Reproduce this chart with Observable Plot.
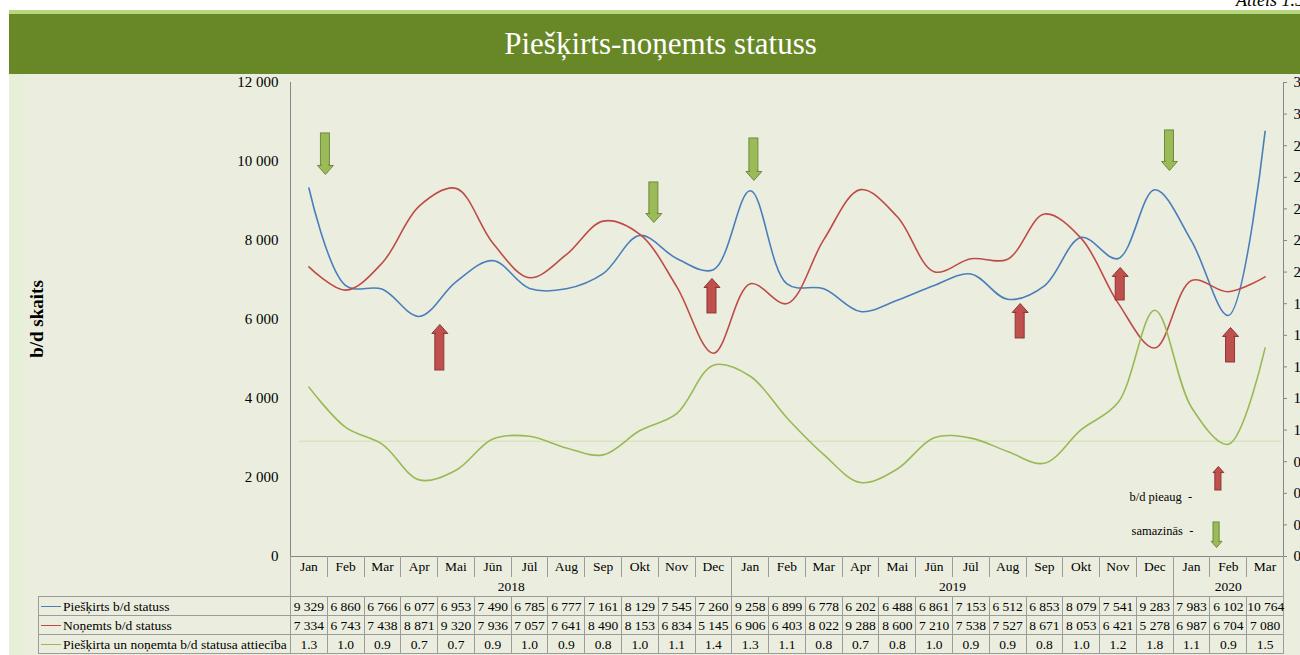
<!DOCTYPE html>
<html>
<head>
<meta charset="utf-8">
<script src="https://cdn.jsdelivr.net/npm/d3@7"></script>
<script src="https://cdn.jsdelivr.net/npm/@observablehq/plot@0.6"></script>
<style>
  html, body { margin: 0; padding: 0; }
  body { width: 1300px; height: 655px; overflow: hidden; background: #ffffff; position: relative;
         font-family: "Liberation Serif", "Times New Roman", serif; color: #000; }
  #bg { position: absolute; left: 9px; top: 13px; width: 1291px; height: 642px; background: #EBEEDF; }
  #bgstrip { position: absolute; left: 9px; top: 74px; width: 15px; height: 581px; background: #E6F0D9; }
  #topline { position: absolute; left: 9px; top: 10px; width: 1291px; height: 4px; background: #B7D680; }
  #banner { position: absolute; left: 9px; top: 14px; width: 1291px; height: 60px; background: #688726;
            color: #fff; font-size: 31px; display: flex; align-items: center; justify-content: center;
            padding-left: 12px; box-sizing: border-box; }
  #fig { position: absolute; right: -4px; top: -10px; font-style: italic; font-size: 18px; white-space: nowrap; }
  #chart { position: absolute; left: 0; top: 74px; }
  #ylab { position: absolute; left: 37px; top: 319px; transform: translate(-50%, -50%) rotate(-90deg);
          font-weight: bold; font-size: 19px; white-space: nowrap; }
  .cell { position: absolute; box-sizing: border-box; text-align: center; font-size: 13.5px; white-space: nowrap; overflow: visible; }
  .lab { text-align: left; padding-left: 24px; }
  .swatch { position: absolute; left: 2px; width: 20px; height: 0; border-top: 1.6px solid; }
</style>
</head>
<body>
<div id="bg"></div>
<div id="bgstrip"></div>
<div id="topline"></div>
<div id="banner">Piešķirts-noņemts statuss</div>
<div id="fig">Attēls 1.5</div>
<div id="chart"></div>
<div id="ylab">b/d skaits</div>
<div id="table"></div>
<script>
// ---------- data ----------
const monthNames = ["Jan","Feb","Mar","Apr","Mai","Jūn","Jūl","Aug","Sep","Okt","Nov","Dec",
                    "Jan","Feb","Mar","Apr","Mai","Jūn","Jūl","Aug","Sep","Okt","Nov","Dec",
                    "Jan","Feb","Mar"];
const years = ["2018", "2019", "2020"];
const yearMonthCounts = [12, 12, 3];
const granted = [9329,6860,6766,6077,6953,7490,6785,6777,7161,8129,7545,7260,
                 9258,6899,6778,6202,6488,6861,7153,6512,6853,8079,7541,9283,
                 7983,6102,10764];
const revoked = [7334,6743,7438,8871,9320,7936,7057,7641,8490,8153,6834,5145,
                 6906,6403,8022,9288,8600,7210,7538,7527,8671,8053,6421,5278,
                 6987,6704,7080];
const ratio = [1.272,1.017,0.910,0.685,0.746,0.944,0.961,0.887,0.843,0.997,1.104,1.411,
               1.341,1.077,0.845,0.668,0.754,0.952,0.949,0.865,0.790,1.003,1.174,1.759,
               1.143,0.910,1.520];
const seriesNames = ["Piešķirts b/d statuss", "Noņemts b/d statuss", "Piešķirta un noņemta b/d statusa attiecība"];
const leftTicks = [0,2000,4000,6000,8000,10000,12000];
const rightTicks = [0.2,0.4,0.6,0.8,1.0,1.2,1.4,1.6,1.8,2.0,2.2,2.4,2.6,2.8,3.0,3.2];
const ratioRef = 0.93;
// annotation arrows: [month position, tail value, tip value]
const downArrows = [[0.45,10710,9672],[9.38,9469,8456],[12.10,10583,9520],[23.40,10786,9773]];
const upArrows = [[3.56,4709,5874],[10.96,6153,7039],[19.34,5520,6406],[22.06,6482,7318],[25.06,4912,5798]];
const legendDown = [[24.68,861,228]];
const legendUp = [[24.73,1671,2279]];
const legendTexts = [["b/d pieaug\u00a0\u00a0-", 24.02, 1494], ["samazinās\u00a0\u00a0-", 24.05, 658]];

// ---------- styles ----------
const colors = ["#4A7EBB", "#BE4B48", "#98B954"];
const axisColor = "#868686";

// ---------- helpers ----------
const nf = d3.formatLocale({decimal: ".", thousands: "\u00a0", grouping: [3], currency: ["", ""]}).format(",");
const f1 = d3.format(".1f");
const leftMax = 12000, rMin = 0.2, rMax = 3.2;
const toLeft = r => (r - rMin) / (rMax - rMin) * leftMax;

const rows = monthNames.map((m, i) => ({i, m, g: granted[i], v: revoked[i], r: toLeft(ratio[i])}));

const svgH = 490, mTop = 8, mBot = 8;
const unitPerPx = leftMax / (svgH - mTop - mBot);
const colPx = (1283 - 290) / 27;

function headSymbol(dir) {
  return { draw(ctx, size) {
    const k = Math.sqrt(size / Math.PI);
    ctx.moveTo(0, dir * 9 * k); ctx.lineTo(8 * k, 0); ctx.lineTo(-8 * k, 0); ctx.closePath();
  }};
}
function arrowMarks(list, dir, fill, stroke, k) {
  const hh = 9 * k * unitPerPx;
  const hw = 4.5 * k / colPx;
  const d = list.map(([x, tail, tip]) => ({x, tail, tip, base: dir > 0 ? tip + hh : tip - hh}));
  return [
    Plot.rect(d, {x1: a => a.x - hw, x2: a => a.x + hw, y1: "tail", y2: "base", fill, stroke, strokeWidth: 1}),
    Plot.dot(d, {x: "x", y: "base", symbol: headSymbol(dir), r: k, fill, stroke, strokeWidth: 1}),
    Plot.rect(d, {x1: a => a.x - hw * 0.75, x2: a => a.x + hw * 0.75,
                  y1: a => a.base - 2 * unitPerPx, y2: a => a.base + 2 * unitPerPx, fill})
  ];
}

const plot = Plot.plot({
  width: 1300, height: svgH,
  marginLeft: 290, marginRight: 17, marginTop: mTop, marginBottom: mBot,
  style: {background: "transparent", fontFamily: "'Liberation Serif', 'Times New Roman', serif", fontSize: "15px", color: "#000", overflow: "visible"},
  x: {domain: [-0.5, 26.5], axis: null},
  y: {domain: [0, leftMax], ticks: leftTicks, tickFormat: nf, tickSize: 0, tickPadding: 12, label: null},
  marks: [
    Plot.ruleY([toLeft(ratioRef)], {x1: -0.25, x2: 26.45, stroke: "#CFE0AE", strokeWidth: 1}),
    Plot.ruleX([-0.5], {y1: 0, y2: leftMax, stroke: axisColor}),
    Plot.ruleX([26.5], {y1: 0, y2: leftMax, stroke: axisColor}),
    Plot.ruleY([0], {x1: -0.5, x2: 26.5, stroke: axisColor}),
    Plot.ruleY(rightTicks.map(toLeft), {x1: 26.5, x2: 26.5 + 4 / colPx, stroke: axisColor}),
    Plot.text(rightTicks, {x: 26.5, y: toLeft, text: f1, dx: 10, textAnchor: "start", fontSize: 15}),
    Plot.line(rows, {x: "i", y: "g", stroke: colors[0], strokeWidth: 1.6, curve: "catmull-rom"}),
    Plot.line(rows, {x: "i", y: "v", stroke: colors[1], strokeWidth: 1.6, curve: "catmull-rom"}),
    Plot.line(rows, {x: "i", y: "r", stroke: colors[2], strokeWidth: 1.6, curve: "catmull-rom"}),
    ...arrowMarks(downArrows, 1, "#9BBB59", "#71893F", 1),
    ...arrowMarks(upArrows, -1, "#C0504D", "#8C3836", 1),
    ...arrowMarks(legendDown, 1, "#9BBB59", "#71893F", 0.68),
    ...arrowMarks(legendUp, -1, "#C0504D", "#8C3836", 0.68),
    Plot.text(legendTexts, {x: d => d[1], y: d => d[2], text: d => d[0], textAnchor: "end", fontSize: 12.5})
  ]
});
document.getElementById("chart").appendChild(plot);

// ---------- data table (positions from the x scale) ----------
const xs = plot.scale("x");
const X = v => (xs && xs.apply) ? xs.apply(v) : 290 + (v + 0.5) * colPx;
const tbl = document.getElementById("table");
const border = "1px solid #9C9C9C";
function cell(left, top, w, h, text, css) {
  const c = document.createElement("div");
  c.className = "cell";
  Object.assign(c.style, {left: left + "px", top: top + "px", width: w + "px", height: h + "px", lineHeight: h + "px"}, css || {});
  c.textContent = text;
  tbl.appendChild(c);
  return c;
}
monthNames.forEach((m, i) => {
  const l = X(i - 0.5), r = X(i + 0.5);
  cell(l, 556, r - l + 1, 21, m, {borderLeft: border, borderRight: border});
});
let start = 0;
years.forEach((y, k) => {
  const l = X(start - 0.5), r = X(start + yearMonthCounts[k] - 0.5);
  cell(l, 576, r - l + 1, 21, y, {borderLeft: border, borderRight: border});
  start += yearMonthCounts[k];
});
const rowTops = [596, 615, 634];
const rowVals = [granted.map(nf), revoked.map(nf), ratio.map(f1)];
seriesNames.forEach((name, s) => {
  const top = rowTops[s];
  const lab = cell(38, top, X(-0.5) - 38 + 1, 20, name, {border: border});
  lab.classList.add("lab");
  const sw = document.createElement("div");
  sw.className = "swatch";
  sw.style.top = "9px";
  sw.style.borderTopColor = colors[s];
  lab.appendChild(sw);
  rowVals[s].forEach((t, i) => {
    const l = X(i - 0.5), r = X(i + 0.5);
    cell(l, top, r - l + 1, 20, t, {border: border});
  });
});
</script>
</body>
</html>
